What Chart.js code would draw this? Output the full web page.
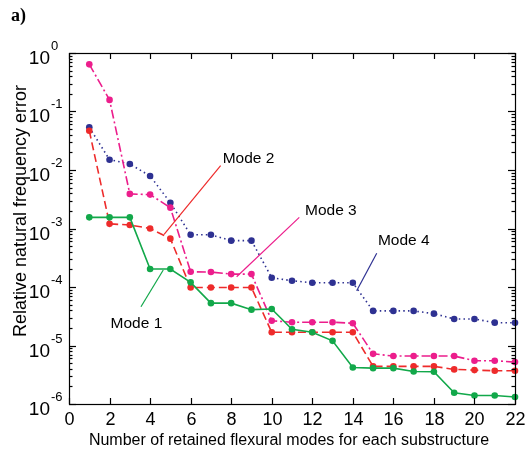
<!DOCTYPE html>
<html>
<head>
<meta charset="utf-8">
<script src="https://cdn.jsdelivr.net/npm/chart.js@4/dist/chart.umd.min.js"></script>
<style>
  html, body { margin: 0; padding: 0; background: #fff; }
</style>
</head>
<body>
<canvas id="chart" width="526" height="450"></canvas>
<script>
// retained flexural modes (x) and relative error for each mode
const retainedModes = [1, 2, 3, 4, 5, 6, 7, 8, 9, 10, 11, 12, 13, 14, 15, 16, 17, 18, 19, 20, 21, 22];
const mode1Error = [1.55e-3, 1.55e-3, 1.55e-3, 2.03e-4, 2.03e-4, 1.2e-4, 5.3e-5, 5.3e-5, 4.1e-5, 4.2e-5, 1.9e-5,
                    1.68e-5, 1.2e-5, 4.2e-6, 4.1e-6, 4.1e-6, 3.6e-6, 3.55e-6, 1.56e-6, 1.4e-6, 1.4e-6, 1.32e-6];
const mode2Error = [4.7e-2, 1.2e-3, 1.15e-3, 1.0e-3, 6.7e-4, 9.8e-5, 9.8e-5, 9.8e-5, 9.8e-5, 1.68e-5, 1.68e-5,
                    1.68e-5, 1.68e-5, 1.68e-5, 4.4e-6, 4.4e-6, 4.4e-6, 4.4e-6, 3.9e-6, 3.8e-6, 3.7e-6, 3.7e-6];
const mode3Error = [0.64, 0.158, 3.9e-3, 3.8e-3, 2.27e-3, 1.82e-4, 1.8e-4, 1.66e-4, 1.66e-4, 2.65e-5, 2.5e-5,
                    2.5e-5, 2.5e-5, 2.4e-5, 7.2e-6, 6.6e-6, 6.6e-6, 6.6e-6, 6.6e-6, 5.5e-6, 5.5e-6, 5.2e-6];
const mode4Error = [5.37e-2, 1.5e-2, 1.27e-2, 7.9e-3, 2.76e-3, 7.8e-4, 7.8e-4, 6.2e-4, 6.2e-4, 1.44e-4, 1.28e-4,
                    1.18e-4, 1.18e-4, 1.18e-4, 3.9e-5, 3.9e-5, 3.9e-5, 3.5e-5, 2.84e-5, 2.84e-5, 2.46e-5, 2.44e-5];

// tick labels
const xTickValues = [0, 2, 4, 6, 8, 10, 12, 14, 16, 18, 20, 22];
const yTickExponents = [0, -1, -2, -3, -4, -5, -6];

// callout labels (text, text anchor, leader line from -> to), in data units
const calloutNames = ['Mode 1', 'Mode 2', 'Mode 3', 'Mode 4'];
const calloutText = [[2.05, 2.4e-5], [7.58, 1.54e-2], [11.64, 2.0e-3], [15.24, 6.2e-4]];
const calloutFrom = [[3.55, 4.6e-5], [4.69, 7.96e-4], [8.27, 1.5e-4], [14.19, 8.65e-5]];
const calloutTo = [[4.65, 1.95e-4], [7.48, 1.19e-2], [11.36, 1.55e-3], [15.18, 3.77e-4]];

const seriesColors = ['#12a84a', '#ee2b2b', '#ec1e8c', '#2e3192'];
const seriesDash = [[], [8, 4], [9, 3, 2, 3], [1.5, 3.2]];
const FONT = '"Liberation Sans", Arial, Helvetica, sans-serif';

const toPoints = (vals) => retainedModes.map((m, i) => ({ x: m, y: vals[i] }));

const makeSet = (label, vals, idx) => ({
    label: label,
    data: toPoints(vals),
    borderColor: seriesColors[idx],
    backgroundColor: seriesColors[idx],
    borderWidth: 1.6,
    borderDash: seriesDash[idx],
    pointRadius: 3.3,
    pointBorderWidth: 0,
    pointBackgroundColor: seriesColors[idx],
    tension: 0,
    clip: false
});

// draw frame, inward ticks, labels and callouts
const framePlugin = {
    id: 'frame',
    afterDraw(chart) {
        const { ctx, chartArea: a, scales: { x, y } } = chart;
        ctx.save();
        ctx.strokeStyle = '#000';
        ctx.fillStyle = '#000';
        ctx.lineWidth = 1.2;

        const seg = (x1, y1, x2, y2) => {
            ctx.beginPath();
            ctx.moveTo(x1, y1);
            ctx.lineTo(x2, y2);
            ctx.stroke();
        };

        // x ticks + labels
        ctx.font = '18px ' + FONT;
        ctx.textAlign = 'center';
        ctx.textBaseline = 'alphabetic';
        xTickValues.forEach(v => {
            const px = Math.round(x.getPixelForValue(v)) + 0.5;
            seg(px, a.bottom, px, a.bottom - 6);
            seg(px, a.top, px, a.top + 6);
            ctx.fillText(String(v), px, a.bottom + 21);
        });

        // y ticks (major + minor), labels as 10^n
        yTickExponents.forEach(e => {
            const py = Math.round(y.getPixelForValue(Math.pow(10, e))) + 0.5;
            seg(a.left, py, a.left + 7, py);
            seg(a.right, py, a.right - 7, py);
            if (e < 0) {
                for (let m = 2; m <= 9; m++) {
                    const pm = Math.round(y.getPixelForValue(m * Math.pow(10, e))) + 0.5;
                    seg(a.left, pm, a.left + 3.5, pm);
                    seg(a.right, pm, a.right - 3.5, pm);
                }
            }
            ctx.textAlign = 'right';
            ctx.font = '19px ' + FONT;
            ctx.fillText('10', 50, py + 10);
            ctx.textAlign = 'left';
            ctx.font = '13px ' + FONT;
            ctx.fillText(String(e), 51, py - 4);
        });

        // frame box
        ctx.strokeRect(a.left + 0.5, a.top + 0.5, a.right - a.left, a.bottom - a.top);

        // axis titles
        ctx.textAlign = 'center';
        ctx.font = '16px ' + FONT;
        ctx.fillText('Number of retained flexural modes for each substructure', (a.left + a.right) / 2 - 3, 445);
        ctx.save();
        ctx.translate(26, 211);
        ctx.rotate(-Math.PI / 2);
        ctx.font = '18px ' + FONT;
        ctx.fillText('Relative natural frequency error', 0, 0);
        ctx.restore();

        // callouts
        ctx.font = '15.5px ' + FONT;
        ctx.textAlign = 'left';
        ctx.textBaseline = 'middle';
        ctx.lineWidth = 1.2;
        calloutNames.forEach((name, i) => {
            ctx.strokeStyle = seriesColors[i];
            seg(x.getPixelForValue(calloutFrom[i][0]), y.getPixelForValue(calloutFrom[i][1]),
                x.getPixelForValue(calloutTo[i][0]), y.getPixelForValue(calloutTo[i][1]));
            ctx.fillStyle = '#000';
            ctx.fillText(name, x.getPixelForValue(calloutText[i][0]), y.getPixelForValue(calloutText[i][1]));
        });

        // panel tag
        ctx.font = 'bold 18px "Liberation Serif", "Times New Roman", serif';
        ctx.textBaseline = 'alphabetic';
        ctx.fillText('a)', 11, 21);
        ctx.restore();
    }
};

new Chart(document.getElementById('chart'), {
    type: 'line',
    data: {
        datasets: [
            makeSet('Mode 1', mode1Error, 0),
            makeSet('Mode 2', mode2Error, 1),
            makeSet('Mode 3', mode3Error, 2),
            makeSet('Mode 4', mode4Error, 3)
        ]
    },
    options: {
        responsive: false,
        animation: false,
        layout: { padding: { left: 69, top: 53, right: 11, bottom: 46 } },
        scales: {
            x: { type: 'linear', min: 0, max: 22, display: false },
            y: { type: 'logarithmic', min: 1e-6, max: 1, display: false }
        },
        plugins: {
            legend: { display: false },
            tooltip: { enabled: false }
        }
    },
    plugins: [framePlugin]
});
</script>
</body>
</html>
